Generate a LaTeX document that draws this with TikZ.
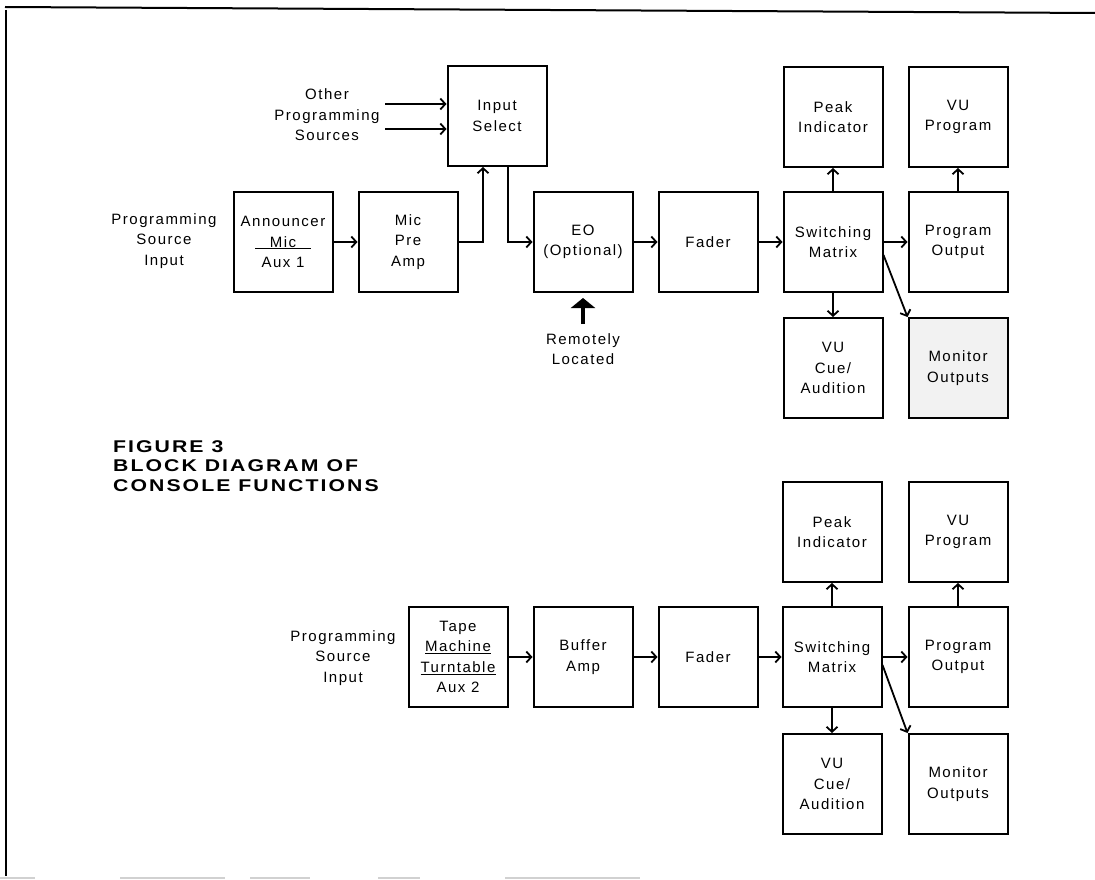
\documentclass[tikz,border=0pt]{standalone}
\usepackage{fontspec}
\setmainfont{Liberation Sans}[LetterSpace=10]
\newfontfamily\capfont{Liberation Sans}[FakeStretch=1.25,LetterSpace=12]
\usetikzlibrary{arrows.meta}

\tikzset{
    blk/.style={draw, line width=2pt, minimum width=99pt, minimum height=100pt, align=center, inner sep=0pt},
    lbl/.style={align=center, inner sep=0pt},
    flow/.style={->, line width=1.8pt},
    >={Straight Barb[length=5pt,width=11pt]}
}

\begin{document}
\begin{tikzpicture}[x=1pt, y=-1pt, font=\fontsize{15}{20.5}\selectfont]
    \useasboundingbox (0,0) rectangle (1095,880);

    % page edge
    \draw[line width=2pt] (5,7) -- (1095,13);
    \draw[line width=2pt] (6,10) -- (6,876);
    \foreach \a/\b in {0/35, 120/225, 250/310, 378/420, 505/640}
        \draw[black!18, line width=2pt] (\a,878) -- (\b,878);

    % upper chain
    \node[lbl] (src1) at (164,241) {Programming\\Source\\Input};
    \node[blk] (ann) at (283,242) {Announcer\\\underline{\makebox[56pt]{Mic}}\\Aux 1};
    \node[blk] (micamp) at (408,242) {Mic\\Pre\\Amp};
    \node[blk] (insel) at (497,116) {Input\\Select};
    \node[lbl] (oth) at (327,115) {Other\\Programming\\Sources};
    \coordinate (oth1) at (385,104);
    \coordinate (oth2) at (385,129);
    \node[blk] (eo) at (583,242) {EO\\(Optional)};
    \node[blk] (fader1) at (708,242) {Fader};
    \node[blk] (sw1) at (833,242) {Switching\\Matrix};
    \node[blk] (peak1) at (833,117) {Peak\\Indicator};
    \node[blk] (prog1) at (958,242) {Program\\Output};
    \node[blk] (vuprog1) at (958,117) {VU\\Program};
    \node[blk] (vucue1) at (833,368) {VU\\Cue/\\Audition};
    \node[blk, fill=black!5] (mon1) at (958,368) {Monitor\\Outputs};
    \coordinate (remote) at (583,324);
    \node[lbl] (remtxt) at (583,349) {Remotely\\Located};

    \draw[flow] (oth1) -- (oth1 -| insel.west);
    \draw[flow] (oth2) -- (oth2 -| insel.west);
    \draw[flow] (ann) -- (micamp);
    \draw[flow] (micamp.east) -| ([xshift=-14pt]insel.south);
    \draw[flow] ([xshift=11pt]insel.south) |- (eo.west);
    \draw[flow] (eo) -- (fader1);
    \draw[flow] (fader1) -- (sw1);
    \draw[flow] (sw1) -- (prog1);
    \draw[flow] (sw1.north) -- (peak1.south);
    \draw[flow] (sw1.south) -- (vucue1.north);
    \draw[flow] ([yshift=-13pt]sw1.east) -- (mon1.north west);
    \draw[flow] (prog1.north) -- (vuprog1.south);
    \draw[line width=4.5pt, -{Triangle[length=10pt,width=24pt]}] (remote) -- ([yshift=-5pt]eo.south);

    % caption
    \node[lbl, anchor=west, align=left, font=\capfont\bfseries\fontsize{17}{19.5}\selectfont] (cap) at (113,466)
        {FIGURE 3\\BLOCK DIAGRAM OF\\CONSOLE FUNCTIONS};

    % lower chain
    \node[lbl] (src2) at (343,658) {Programming\\Source\\Input};
    \node[blk] (tape) at (458,657) {Tape\\\underline{\makebox[66pt]{Machine}}\\\underline{\makebox[75pt]{Turntable}}\\Aux 2};
    \node[blk] (buf) at (583,657) {Buffer\\Amp};
    \node[blk] (fader2) at (708,657) {Fader};
    \node[blk] (sw2) at (832,657) {Switching\\Matrix};
    \node[blk] (peak2) at (832,532) {Peak\\Indicator};
    \node[blk] (prog2) at (958,657) {Program\\Output};
    \node[blk] (vuprog2) at (958,532) {VU\\Program};
    \node[blk] (vucue2) at (832,784) {VU\\Cue/\\Audition};
    \node[blk] (mon2) at (958,784) {Monitor\\Outputs};

    \draw[flow] (tape) -- (buf);
    \draw[flow] (buf) -- (fader2);
    \draw[flow] (fader2) -- (sw2);
    \draw[flow] (sw2) -- (prog2);
    \draw[flow] (sw2.north) -- (peak2.south);
    \draw[flow] (sw2.south) -- (vucue2.north);
    \draw[flow] ([yshift=-8pt]sw2.east) -- (mon2.north west);
    \draw[flow] (prog2.north) -- (vuprog2.south);

\end{tikzpicture}
\end{document}
